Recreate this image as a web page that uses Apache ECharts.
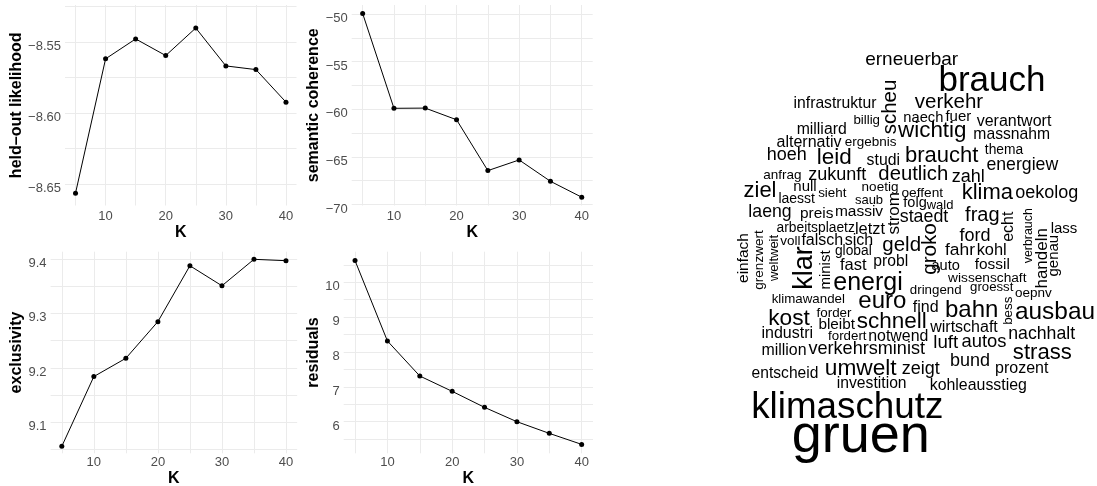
<!DOCTYPE html>
<html>
<head>
<meta charset="utf-8">
<script src="https://cdn.jsdelivr.net/npm/echarts@6/dist/echarts.min.js"></script>
<style>
html,body{margin:0;padding:0;background:#fff;}
#c{width:1097px;height:486px;}
</style>
</head>
<body>
<div id="c"></div>
<script>
// ---- diagnostics data ----
const K = [5, 10, 15, 20, 25, 30, 35, 40];
const heldout = [-8.6566, -8.562, -8.548, -8.5597, -8.5403, -8.567, -8.5696, -8.5925];
const semcoh = [-49.95, -59.9, -59.88, -61.1, -66.44, -65.32, -67.56, -69.23];
const exclus = [9.0558, 9.184, 9.2176, 9.2849, 9.3876, 9.3508, 9.3994, 9.3969];
const resid = [10.622, 8.316, 7.311, 6.871, 6.411, 6.0, 5.665, 5.349];

const kTicks = [10, 20, 30, 40];
const kGrid = [5, 10, 15, 20, 25, 30, 35, 40];
const heldTicks = [-8.65, -8.60, -8.55];
const heldGrid = [-8.65, -8.625, -8.60, -8.575, -8.55, -8.525];
const semTicks = [-70, -65, -60, -55, -50];
const semGrid = [-70, -67.5, -65, -62.5, -60, -57.5, -55, -52.5, -50];
const excTicks = [9.1, 9.2, 9.3, 9.4];
const excGrid = [9.05, 9.1, 9.15, 9.2, 9.25, 9.3, 9.35, 9.4];
const resTicks = [6, 7, 8, 9, 10];
const resGrid = [5.5, 6, 6.5, 7, 7.5, 8, 8.5, 9, 9.5, 10, 10.5];

// ---- word cloud data ----
const words = ["erneuerbar","brauch","scheu","infrastruktur","verkehr","billig","naech","fuer","verantwort","milliard","wichtig","massnahm","alternativ","ergebnis","hoeh","leid","studi","braucht","thema","energiew","anfrag","zukunft","deutlich","zahl","ziel","null","laesst","sieht","noetig","saub","strom","oeffent","folg","wald","klima","oekolog","laeng","preis","massiv","staedt","frag","echt","verbrauch","handeln","genau","lass","arbeitsplaetz","letzt","einfach","grenzwert","weltweit","voll","falsch","sich","geld","groko","ford","global","minist","klar","fahr","kohl","fast","probl","auto","fossil","wissenschaft","energi","dringend","groesst","oepnv","klimawandel","euro","find","bahn","bess","ausbau","kost","forder","bleibt","schnell","wirtschaft","nachhalt","industri","fordert","notwend","luft","autos","million","verkehrsminist","strass","bund","umwelt","zeigt","prozent","entscheid","investition","kohleausstieg","klimaschutz","gruen"];
const wordSize = [19,35,20.5,15.7,20.5,13.3,14.7,15,16,15.8,22.4,15.7,16,13.5,18,22.5,15.8,22,13.8,17.7,13.5,18,20.3,18,22,15,14,13.4,13.5,13,17,13.7,14.5,13,22,18,17.7,15.4,15.5,17.8,20,16,12.4,17,15,15,13.8,16.4,15.5,13.5,13,13.5,16,16,20.5,20.7,18,13.8,15,27,17.4,16.4,16.5,15.7,14.6,15.4,13.7,25,13.3,13.2,13.5,13.3,24,16,24,13.4,24.4,22.7,13.4,15.3,22.5,16,17.7,16,13.3,15.9,18.7,18.4,15.9,18.1,22.1,18,22.7,18,16,15.6,15.7,15.9,36.8,54];
const layoutX = [911.7,992,890,835,949,866.7,923.3,958.3,1014,821.7,932.3,1011.7,809,870.7,786.7,834.3,883.3,941.7,1004,1022.3,782.3,837.3,913.3,968.3,760,805,796.7,832.3,880,869,894,922.3,915,940,987.3,1046.7,770,816.7,859,924,982.3,1009,1028.3,1042.3,1054,1064,815.7,870,743.5,759,774,790.3,822.3,859,901.7,930.7,975,853.3,825.7,805,960,991.7,853.3,890.7,945.7,992.3,987.3,868,935.7,991.7,1033.3,808.3,882.3,925.7,971.7,1008.3,1055,789,834,836.7,891.7,964,1041.7,787.3,847.3,898.3,945.7,984,784,866.7,1042.3,970,860.7,920.7,1021.7,785,871.7,978.3,847.3,860.7];
const layoutY = [60,81.7,107,103.3,102.7,120.7,117.7,117,121.7,129.3,130.7,135,142.3,142.3,155,157.7,161,155.7,150,165,175,175,174,177.3,190.7,186.7,199,193.3,187.3,200,213.3,193.3,203.3,205.7,193.3,192.7,212.3,213.3,211.7,217.3,215,226.7,235.7,258.3,255.7,229,228.3,229,258,260,258,241.7,240.5,241,245.7,249,236,251.5,270,268,250,250.7,265.3,262,265.7,265,278.3,283,290.7,287,293.3,299,301.7,307.3,310,310.7,312.7,318.3,313.3,325,321.7,327.3,334,334,336.7,336.7,343.3,341.7,350.7,349,353.3,360.7,368.3,369,369,374,384,385.7,408.3,437];
const rotatedWords = ["scheu","strom","echt","verbrauch","handeln","genau","einfach","grenzwert","weltweit","groko","minist","klar","bess"];
const layoutRot = words.map(w => rotatedWords.includes(w) ? 90 : 0);

const FONT = "'Liberation Sans', Arial, Helvetica, sans-serif";
const GRIDC = '#EBEBEB';
const minus = s => s.replace('-', '\u2212');

function xAx(gi) {
  return {
    type: 'value', gridIndex: gi, min: 3.25, max: 41.75,
    name: 'K', nameLocation: 'middle', nameGap: gi < 2 ? 19 : 16,
    nameTextStyle: { fontFamily: FONT, fontWeight: 'bold', fontSize: 16, color: '#000' },
    axisLine: { show: false },
    axisTick: { show: false, customValues: kGrid },
    axisLabel: { customValues: kTicks, margin: gi < 2 ? 4 : 3, fontFamily: FONT, fontSize: 13, color: '#4D4D4D' },
    splitLine: { show: true, lineStyle: { color: GRIDC, width: 1 } }
  };
}
function yAx(gi, name, min, max, ticks, grid, gap, fmt) {
  return {
    type: 'value', gridIndex: gi, min: min, max: max,
    name: name, nameLocation: 'middle', nameGap: gap, nameRotate: 90,
    nameTextStyle: { fontFamily: FONT, fontWeight: 'bold', fontSize: 16, color: '#000' },
    axisLine: { show: false },
    axisTick: { show: false, customValues: grid },
    axisLabel: { customValues: ticks, margin: 4, fontFamily: FONT, fontSize: 13, color: '#4D4D4D',
      verticalAlign: 'top', lineHeight: 9, formatter: fmt },
    splitLine: { show: true, lineStyle: { color: GRIDC, width: 1 } }
  };
}
function lineSeries(gi, vals) {
  return {
    type: 'line', xAxisIndex: gi, yAxisIndex: gi,
    data: K.map((k, i) => [k, vals[i]]),
    symbol: 'circle', symbolSize: 5, showSymbol: true,
    lineStyle: { color: '#000', width: 1 }, itemStyle: { color: '#000' },
    silent: true, animation: false
  };
}

const cloudData = words.map((w, i) => ({
  name: w, value: [layoutX[i], layoutY[i]],
  label: { fontSize: wordSize[i], rotate: layoutRot[i], color: '#000' }
}));

const chart = echarts.init(document.getElementById('c'), null, { renderer: 'canvas' });
chart.setOption({
  backgroundColor: '#fff',
  animation: false,
  grid: [
    { left: 65, top: 5, width: 231.5, height: 200.5, outerBoundsMode: 'none' },
    { left: 351.7, top: 5, width: 241, height: 200.5, outerBoundsMode: 'none' },
    { left: 50.6, top: 251.7, width: 246.6, height: 201.6, outerBoundsMode: 'none' },
    { left: 343.7, top: 251.7, width: 249.3, height: 201.6, outerBoundsMode: 'none' },
    { left: 0, top: 0, width: 1097, height: 486, outerBoundsMode: 'none' }
  ],
  xAxis: [xAx(0), xAx(1), xAx(2), xAx(3),
    { type: 'value', gridIndex: 4, min: 0, max: 1097, show: false }],
  yAxis: [
    yAx(0, 'held\u2013out likelihood', -8.6653, -8.5241, heldTicks, heldGrid, 40, v => minus(v.toFixed(2))),
    yAx(1, 'semantic coherence', -70.1, -49.06, semTicks, semGrid, 29, v => minus(v.toFixed(0))),
    yAx(2, 'exclusivity', 9.043, 9.4134, excTicks, excGrid, 26, v => v.toFixed(1)),
    yAx(3, 'residuals', 5.093, 10.878, resTicks, resGrid, 21, v => v.toFixed(0)),
    { type: 'value', gridIndex: 4, min: 0, max: 486, inverse: true, show: false }
  ],
  series: [
    lineSeries(0, heldout), lineSeries(1, semcoh), lineSeries(2, exclus), lineSeries(3, resid),
    {
      type: 'scatter', xAxisIndex: 4, yAxisIndex: 4, symbolSize: 0,
      itemStyle: { color: '#000', opacity: 1 }, silent: true,
      label: { show: true, position: 'inside', formatter: '{b}', color: '#000', fontFamily: FONT,
        align: 'center', verticalAlign: 'middle', textBorderWidth: 0 },
      data: cloudData
    }
  ]
});
</script>
</body>
</html>
